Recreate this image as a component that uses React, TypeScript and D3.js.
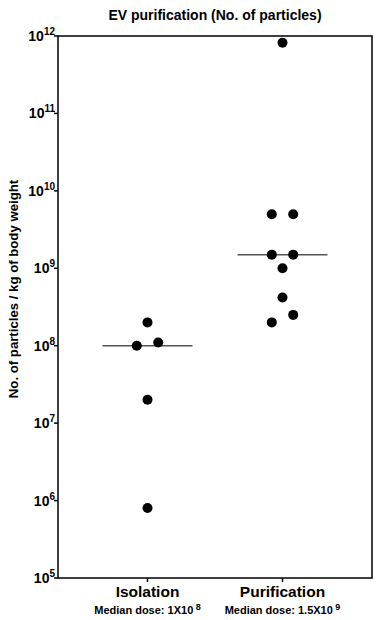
import React from "react";
import * as d3 from "d3";

const title = "EV purification (No. of particles)";
const yAxisLabel = "No. of particles / kg of body weight";
const categories = ["Isolation", "Purification"];
const doseBase = ["Median dose: 1X10", "Median dose: 1.5X10"];
const doseExp = ["8", "9"];
const isolationValues = [2.0e8, 1.0e8, 1.1e8, 2.0e7, 8.0e5];
const isolationSlots = [0, -1, 1, 0, 0];
const purificationValues = [8.2e11, 5.0e9, 5.0e9, 1.5e9, 1.5e9, 1.0e9, 4.2e8, 2.5e8, 2.0e8];
const purificationSlots = [0, -1, 1, -1, 1, 0, 0, 1, -1];
const medians = [1.0e8, 1.5e9];
const yTickExps = [5, 6, 7, 8, 9, 10, 11, 12];

const W = 381, H = 620;
const m = { left: 58, right: 9, top: 36, bottom: 42 };
const font = "Liberation Sans, Arial, sans-serif";

export default function App() {
  const x = d3.scalePoint<string>().domain(categories).range([m.left, W - m.right]).padding(0.663);
  const y = d3.scaleLog().domain([1e5, 1e12]).range([H - m.bottom, m.top]);
  const cx = (c: string) => x(c) as number;
  const slotW = 10.7;
  const groups = [
    { cat: categories[0], vals: isolationValues, slots: isolationSlots },
    { cat: categories[1], vals: purificationValues, slots: purificationSlots },
  ];
  const x0 = m.left, x1 = W - m.right, y0 = m.top, y1 = H - m.bottom;
  return (
    <svg width={W} height={H} style={{ position: "absolute", left: 0, top: 0 }}>
      <rect x={0} y={0} width={W} height={H} fill="#fff" />
      <text x={(x0 + x1) / 2} y={20} textAnchor="middle" fontFamily={font} fontWeight="bold" fontSize={14}>{title}</text>
      <text transform={`translate(18,289) rotate(-90)`} textAnchor="middle" fontFamily={font} fontWeight="bold" fontSize={13.2}>{yAxisLabel}</text>
      <rect x={x0} y={y0} width={x1 - x0} height={y1 - y0} fill="none" stroke="#000" strokeWidth={1.5} />
      {yTickExps.map((e) => (
        <g key={e}>
          <line x1={x0 - 4} x2={x0} y1={y(Math.pow(10, e))} y2={y(Math.pow(10, e))} stroke="#000" strokeWidth={1.5} />
          <text x={x0 - 3} y={y(Math.pow(10, e)) + 5} textAnchor="end" fontFamily={font} fontWeight="bold" fontSize={14}>
            10<tspan dy={-6} fontSize={10}>{e}</tspan>
          </text>
        </g>
      ))}
      {categories.map((c, i) => (
        <g key={c}>
          <line x1={cx(c)} x2={cx(c)} y1={y1} y2={y1 + 4} stroke="#000" strokeWidth={1.5} />
          <text x={cx(c)} y={y1 + 19} textAnchor="middle" fontFamily={font} fontWeight="bold" fontSize={15.5}>{c}</text>
          <text x={cx(c)} y={y1 + 36} textAnchor="middle" fontFamily={font} fontWeight="bold" fontSize={11}>
            {doseBase[i]}<tspan dy={-4} fontSize={9}>{" " + doseExp[i]}</tspan>
          </text>
        </g>
      ))}
      {groups.map((g, gi) => (
        <g key={g.cat}>
          <line x1={cx(g.cat) - 45} x2={cx(g.cat) + 45} y1={y(medians[gi])} y2={y(medians[gi])} stroke="#555" strokeWidth={1.5} />
          {g.vals.map((v, i) => (
            <circle key={i} cx={cx(g.cat) + g.slots[i] * slotW} cy={y(v)} r={5} fill="#000" />
          ))}
        </g>
      ))}
    </svg>
  );
}
